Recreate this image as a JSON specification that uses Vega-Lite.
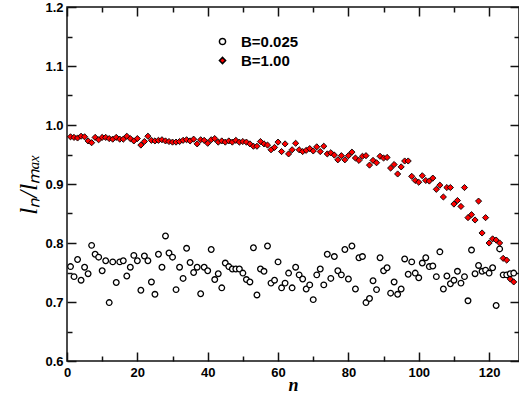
{
  "$schema": "https://vega.github.io/schema/vega-lite/v6.json",
  "width": 452,
  "height": 354,
  "autosize": {"type": "none"},
  "padding": {"left": 67, "top": 7, "right": 0, "bottom": 35},
  "background": "white",
  "config": {
    "view": {"stroke": "#111111", "strokeWidth": 1.5},
    "axis": {
      "grid": false,
      "domain": false,
      "ticks": true,
      "tickColor": "#111111",
      "tickWidth": 1.5,
      "labelFont": "Liberation Sans",
      "labelFontWeight": "bold",
      "labelFontSize": 13,
      "labelColor": "black"
    }
  },
  "datasets": {
    "diam": [
      {"n":1,"v":0.980,"s":"B=1.00"},{"n":2,"v":0.979,"s":"B=1.00"},{"n":3,"v":0.978,"s":"B=1.00"},{"n":4,"v":0.981,"s":"B=1.00"},{"n":5,"v":0.980,"s":"B=1.00"},
      {"n":6,"v":0.973,"s":"B=1.00"},{"n":7,"v":0.970,"s":"B=1.00"},{"n":8,"v":0.979,"s":"B=1.00"},{"n":9,"v":0.975,"s":"B=1.00"},{"n":10,"v":0.979,"s":"B=1.00"},
      {"n":11,"v":0.979,"s":"B=1.00"},{"n":12,"v":0.977,"s":"B=1.00"},{"n":13,"v":0.976,"s":"B=1.00"},{"n":14,"v":0.979,"s":"B=1.00"},{"n":15,"v":0.976,"s":"B=1.00"},
      {"n":16,"v":0.976,"s":"B=1.00"},{"n":17,"v":0.981,"s":"B=1.00"},{"n":18,"v":0.977,"s":"B=1.00"},{"n":19,"v":0.973,"s":"B=1.00"},{"n":20,"v":0.977,"s":"B=1.00"},
      {"n":21,"v":0.966,"s":"B=1.00"},{"n":22,"v":0.972,"s":"B=1.00"},{"n":23,"v":0.981,"s":"B=1.00"},{"n":24,"v":0.974,"s":"B=1.00"},{"n":25,"v":0.973,"s":"B=1.00"},
      {"n":26,"v":0.974,"s":"B=1.00"},{"n":27,"v":0.975,"s":"B=1.00"},{"n":28,"v":0.973,"s":"B=1.00"},{"n":29,"v":0.972,"s":"B=1.00"},{"n":30,"v":0.971,"s":"B=1.00"},
      {"n":31,"v":0.971,"s":"B=1.00"},{"n":32,"v":0.972,"s":"B=1.00"},{"n":33,"v":0.974,"s":"B=1.00"},{"n":34,"v":0.975,"s":"B=1.00"},{"n":35,"v":0.973,"s":"B=1.00"},
      {"n":36,"v":0.976,"s":"B=1.00"},{"n":37,"v":0.968,"s":"B=1.00"},{"n":38,"v":0.975,"s":"B=1.00"},{"n":39,"v":0.974,"s":"B=1.00"},{"n":40,"v":0.969,"s":"B=1.00"},
      {"n":41,"v":0.975,"s":"B=1.00"},{"n":42,"v":0.977,"s":"B=1.00"},{"n":43,"v":0.971,"s":"B=1.00"},{"n":44,"v":0.973,"s":"B=1.00"},{"n":45,"v":0.971,"s":"B=1.00"},
      {"n":46,"v":0.973,"s":"B=1.00"},{"n":47,"v":0.971,"s":"B=1.00"},{"n":48,"v":0.974,"s":"B=1.00"},{"n":49,"v":0.971,"s":"B=1.00"},{"n":50,"v":0.972,"s":"B=1.00"},
      {"n":51,"v":0.971,"s":"B=1.00"},{"n":52,"v":0.968,"s":"B=1.00"},{"n":53,"v":0.964,"s":"B=1.00"},{"n":54,"v":0.964,"s":"B=1.00"},{"n":55,"v":0.972,"s":"B=1.00"},
      {"n":56,"v":0.968,"s":"B=1.00"},{"n":57,"v":0.966,"s":"B=1.00"},{"n":58,"v":0.958,"s":"B=1.00"},{"n":59,"v":0.962,"s":"B=1.00"},{"n":60,"v":0.971,"s":"B=1.00"},
      {"n":61,"v":0.955,"s":"B=1.00"},{"n":62,"v":0.968,"s":"B=1.00"},{"n":63,"v":0.951,"s":"B=1.00"},{"n":64,"v":0.958,"s":"B=1.00"},{"n":65,"v":0.969,"s":"B=1.00"},
      {"n":66,"v":0.958,"s":"B=1.00"},{"n":67,"v":0.955,"s":"B=1.00"},{"n":68,"v":0.957,"s":"B=1.00"},{"n":69,"v":0.960,"s":"B=1.00"},{"n":70,"v":0.956,"s":"B=1.00"},
      {"n":71,"v":0.963,"s":"B=1.00"},{"n":72,"v":0.955,"s":"B=1.00"},{"n":73,"v":0.964,"s":"B=1.00"},{"n":74,"v":0.951,"s":"B=1.00"},{"n":75,"v":0.953,"s":"B=1.00"},
      {"n":76,"v":0.949,"s":"B=1.00"},{"n":77,"v":0.941,"s":"B=1.00"},{"n":78,"v":0.948,"s":"B=1.00"},{"n":79,"v":0.941,"s":"B=1.00"},{"n":80,"v":0.948,"s":"B=1.00"},
      {"n":81,"v":0.954,"s":"B=1.00"},{"n":82,"v":0.944,"s":"B=1.00"},{"n":83,"v":0.940,"s":"B=1.00"},{"n":84,"v":0.947,"s":"B=1.00"},{"n":85,"v":0.948,"s":"B=1.00"},
      {"n":86,"v":0.932,"s":"B=1.00"},{"n":87,"v":0.940,"s":"B=1.00"},{"n":88,"v":0.936,"s":"B=1.00"},{"n":89,"v":0.947,"s":"B=1.00"},{"n":90,"v":0.944,"s":"B=1.00"},
      {"n":91,"v":0.945,"s":"B=1.00"},{"n":92,"v":0.927,"s":"B=1.00"},{"n":93,"v":0.933,"s":"B=1.00"},{"n":94,"v":0.917,"s":"B=1.00"},{"n":95,"v":0.929,"s":"B=1.00"},
      {"n":96,"v":0.939,"s":"B=1.00"},{"n":97,"v":0.939,"s":"B=1.00"},{"n":98,"v":0.913,"s":"B=1.00"},{"n":99,"v":0.906,"s":"B=1.00"},{"n":100,"v":0.903,"s":"B=1.00"},
      {"n":101,"v":0.914,"s":"B=1.00"},{"n":102,"v":0.906,"s":"B=1.00"},{"n":103,"v":0.905,"s":"B=1.00"},{"n":104,"v":0.910,"s":"B=1.00"},{"n":105,"v":0.891,"s":"B=1.00"},
      {"n":106,"v":0.898,"s":"B=1.00"},{"n":107,"v":0.878,"s":"B=1.00"},{"n":108,"v":0.894,"s":"B=1.00"},{"n":109,"v":0.894,"s":"B=1.00"},{"n":110,"v":0.866,"s":"B=1.00"},
      {"n":111,"v":0.872,"s":"B=1.00"},{"n":112,"v":0.862,"s":"B=1.00"},{"n":113,"v":0.894,"s":"B=1.00"},{"n":114,"v":0.843,"s":"B=1.00"},{"n":115,"v":0.848,"s":"B=1.00"},
      {"n":116,"v":0.839,"s":"B=1.00"},{"n":117,"v":0.871,"s":"B=1.00"},{"n":118,"v":0.817,"s":"B=1.00"},{"n":119,"v":0.843,"s":"B=1.00"},{"n":120,"v":0.800,"s":"B=1.00"},
      {"n":121,"v":0.807,"s":"B=1.00"},{"n":122,"v":0.805,"s":"B=1.00"},{"n":123,"v":0.800,"s":"B=1.00"},{"n":124,"v":0.774,"s":"B=1.00"},{"n":125,"v":0.771,"s":"B=1.00"},
      {"n":126,"v":0.739,"s":"B=1.00"},{"n":127,"v":0.734,"s":"B=1.00"}
    ],
    "circ": [
      {"n":1,"v":0.760,"s":"B=0.025"},{"n":2,"v":0.743,"s":"B=0.025"},{"n":3,"v":0.772,"s":"B=0.025"},{"n":4,"v":0.737,"s":"B=0.025"},{"n":5,"v":0.759,"s":"B=0.025"},
      {"n":6,"v":0.748,"s":"B=0.025"},{"n":7,"v":0.796,"s":"B=0.025"},{"n":8,"v":0.781,"s":"B=0.025"},{"n":9,"v":0.776,"s":"B=0.025"},{"n":10,"v":0.753,"s":"B=0.025"},
      {"n":11,"v":0.770,"s":"B=0.025"},{"n":12,"v":0.699,"s":"B=0.025"},{"n":13,"v":0.768,"s":"B=0.025"},{"n":14,"v":0.733,"s":"B=0.025"},{"n":15,"v":0.768,"s":"B=0.025"},
      {"n":16,"v":0.770,"s":"B=0.025"},{"n":17,"v":0.744,"s":"B=0.025"},{"n":18,"v":0.759,"s":"B=0.025"},{"n":19,"v":0.779,"s":"B=0.025"},{"n":20,"v":0.770,"s":"B=0.025"},
      {"n":21,"v":0.720,"s":"B=0.025"},{"n":22,"v":0.778,"s":"B=0.025"},{"n":23,"v":0.770,"s":"B=0.025"},{"n":24,"v":0.734,"s":"B=0.025"},{"n":25,"v":0.713,"s":"B=0.025"},
      {"n":26,"v":0.781,"s":"B=0.025"},{"n":27,"v":0.759,"s":"B=0.025"},{"n":28,"v":0.812,"s":"B=0.025"},{"n":29,"v":0.783,"s":"B=0.025"},{"n":30,"v":0.776,"s":"B=0.025"},
      {"n":31,"v":0.721,"s":"B=0.025"},{"n":32,"v":0.759,"s":"B=0.025"},{"n":33,"v":0.740,"s":"B=0.025"},{"n":34,"v":0.791,"s":"B=0.025"},{"n":35,"v":0.767,"s":"B=0.025"},
      {"n":36,"v":0.750,"s":"B=0.025"},{"n":37,"v":0.759,"s":"B=0.025"},{"n":38,"v":0.714,"s":"B=0.025"},{"n":39,"v":0.759,"s":"B=0.025"},{"n":40,"v":0.753,"s":"B=0.025"},
      {"n":41,"v":0.789,"s":"B=0.025"},{"n":42,"v":0.738,"s":"B=0.025"},{"n":43,"v":0.748,"s":"B=0.025"},{"n":44,"v":0.724,"s":"B=0.025"},{"n":45,"v":0.766,"s":"B=0.025"},
      {"n":46,"v":0.760,"s":"B=0.025"},{"n":47,"v":0.756,"s":"B=0.025"},{"n":48,"v":0.756,"s":"B=0.025"},{"n":49,"v":0.756,"s":"B=0.025"},{"n":50,"v":0.749,"s":"B=0.025"},
      {"n":51,"v":0.738,"s":"B=0.025"},{"n":52,"v":0.734,"s":"B=0.025"},{"n":53,"v":0.792,"s":"B=0.025"},{"n":54,"v":0.712,"s":"B=0.025"},{"n":55,"v":0.756,"s":"B=0.025"},
      {"n":56,"v":0.752,"s":"B=0.025"},{"n":57,"v":0.795,"s":"B=0.025"},{"n":58,"v":0.732,"s":"B=0.025"},{"n":59,"v":0.737,"s":"B=0.025"},{"n":60,"v":0.768,"s":"B=0.025"},
      {"n":61,"v":0.724,"s":"B=0.025"},{"n":62,"v":0.732,"s":"B=0.025"},{"n":63,"v":0.749,"s":"B=0.025"},{"n":64,"v":0.724,"s":"B=0.025"},{"n":65,"v":0.759,"s":"B=0.025"},
      {"n":66,"v":0.746,"s":"B=0.025"},{"n":67,"v":0.739,"s":"B=0.025"},{"n":68,"v":0.722,"s":"B=0.025"},{"n":69,"v":0.729,"s":"B=0.025"},{"n":70,"v":0.704,"s":"B=0.025"},
      {"n":71,"v":0.746,"s":"B=0.025"},{"n":72,"v":0.756,"s":"B=0.025"},{"n":73,"v":0.729,"s":"B=0.025"},{"n":74,"v":0.781,"s":"B=0.025"},{"n":75,"v":0.740,"s":"B=0.025"},
      {"n":76,"v":0.777,"s":"B=0.025"},{"n":77,"v":0.753,"s":"B=0.025"},{"n":78,"v":0.746,"s":"B=0.025"},{"n":79,"v":0.789,"s":"B=0.025"},{"n":80,"v":0.739,"s":"B=0.025"},
      {"n":81,"v":0.795,"s":"B=0.025"},{"n":82,"v":0.722,"s":"B=0.025"},{"n":83,"v":0.775,"s":"B=0.025"},{"n":84,"v":0.777,"s":"B=0.025"},{"n":85,"v":0.699,"s":"B=0.025"},
      {"n":86,"v":0.706,"s":"B=0.025"},{"n":87,"v":0.736,"s":"B=0.025"},{"n":88,"v":0.721,"s":"B=0.025"},{"n":89,"v":0.775,"s":"B=0.025"},{"n":90,"v":0.753,"s":"B=0.025"},
      {"n":91,"v":0.758,"s":"B=0.025"},{"n":92,"v":0.715,"s":"B=0.025"},{"n":93,"v":0.734,"s":"B=0.025"},{"n":94,"v":0.713,"s":"B=0.025"},{"n":95,"v":0.722,"s":"B=0.025"},
      {"n":96,"v":0.773,"s":"B=0.025"},{"n":97,"v":0.747,"s":"B=0.025"},{"n":98,"v":0.768,"s":"B=0.025"},{"n":99,"v":0.749,"s":"B=0.025"},{"n":100,"v":0.741,"s":"B=0.025"},
      {"n":101,"v":0.766,"s":"B=0.025"},{"n":102,"v":0.775,"s":"B=0.025"},{"n":103,"v":0.760,"s":"B=0.025"},{"n":104,"v":0.761,"s":"B=0.025"},{"n":105,"v":0.743,"s":"B=0.025"},
      {"n":106,"v":0.785,"s":"B=0.025"},{"n":107,"v":0.722,"s":"B=0.025"},{"n":108,"v":0.744,"s":"B=0.025"},{"n":109,"v":0.731,"s":"B=0.025"},{"n":110,"v":0.737,"s":"B=0.025"},
      {"n":111,"v":0.752,"s":"B=0.025"},{"n":112,"v":0.732,"s":"B=0.025"},{"n":113,"v":0.743,"s":"B=0.025"},{"n":114,"v":0.702,"s":"B=0.025"},{"n":115,"v":0.788,"s":"B=0.025"},
      {"n":116,"v":0.748,"s":"B=0.025"},{"n":117,"v":0.762,"s":"B=0.025"},{"n":118,"v":0.752,"s":"B=0.025"},{"n":119,"v":0.754,"s":"B=0.025"},{"n":120,"v":0.749,"s":"B=0.025"},
      {"n":121,"v":0.758,"s":"B=0.025"},{"n":122,"v":0.694,"s":"B=0.025"},{"n":123,"v":0.790,"s":"B=0.025"},{"n":124,"v":0.746,"s":"B=0.025"},{"n":125,"v":0.746,"s":"B=0.025"},
      {"n":126,"v":0.748,"s":"B=0.025"},{"n":127,"v":0.749,"s":"B=0.025"}
    ]
  },
  "resolve": {"axis": {"x": "independent", "y": "independent"}},
  "layer": [
    {
      "data": {"name": "diam"},
      "mark": {"type": "point", "filled": true, "size": 38, "stroke": "black", "strokeWidth": 0.9, "opacity": 1},
      "encoding": {
        "x": {
          "field": "n", "type": "quantitative",
          "scale": {"domain": [0, 128.5], "nice": false, "zero": false},
          "axis": {
            "orient": "bottom",
            "offset": -9,
            "values": [0, 20, 40, 60, 80, 100, 120],
            "tickSize": 9,
            "labelPadding": 5,
            "labelFlush": false,
            "title": "n",
            "titleFont": "Liberation Serif",
            "titleFontStyle": "italic",
            "titleFontWeight": "bold",
            "titleFontSize": 18,
            "titleColor": "black",
            "titlePadding": -3
          }
        },
        "y": {
          "field": "v", "type": "quantitative",
          "scale": {"domain": [0.6, 1.2], "nice": false, "zero": false},
          "axis": {
            "orient": "left",
            "offset": -9,
            "values": [0.6, 0.7, 0.8, 0.9, 1.0, 1.1, 1.2],
            "format": ".1f",
            "tickSize": 9,
            "labelPadding": 4,
            "labelFlush": false,
            "title": "lₙ/lₘₐₓ",
            "titleFont": "Liberation Serif",
            "titleFontStyle": "italic",
            "titleFontWeight": "normal",
            "titleFontSize": 25,
            "titleColor": "black",
            "titlePadding": 3
          }
        },
        "shape": {
          "field": "s", "type": "nominal",
          "scale": {"domain": ["B=0.025", "B=1.00"], "range": ["circle", "diamond"]},
          "legend": {
            "orient": "none", "legendX": 148, "legendY": 27, "title": null,
            "labelFont": "Liberation Sans", "labelFontWeight": "bold", "labelFontSize": 15, "labelColor": "black",
            "symbolSize": 38,
            "rowPadding": 3, "labelOffset": 11, "padding": 0,
            "encode": {"symbols": {"update": {"stroke": {"value": "black"}, "strokeWidth": {"value": 1.2}}}}
          }
        },
        "fill": {
          "field": "s", "type": "nominal",
          "scale": {"domain": ["B=0.025", "B=1.00"], "range": ["white", "#ff0000"]},
          "legend": {
            "orient": "none", "legendX": 148, "legendY": 27, "title": null,
            "labelFont": "Liberation Sans", "labelFontWeight": "bold", "labelFontSize": 15, "labelColor": "black",
            "symbolSize": 38,
            "rowPadding": 3, "labelOffset": 11, "padding": 0,
            "encode": {"symbols": {"update": {"stroke": {"value": "black"}, "strokeWidth": {"value": 1.2}}}}
          }
        }
      }
    },
    {
      "data": {"name": "circ"},
      "mark": {"type": "point", "filled": true, "size": 32, "stroke": "black", "strokeWidth": 1.3, "opacity": 1},
      "encoding": {
        "x": {
          "field": "n", "type": "quantitative",
          "axis": {"orient": "top", "offset": -9, "values": [0, 20, 40, 60, 80, 100, 120], "tickSize": 9, "labels": false, "title": null}
        },
        "y": {
          "field": "v", "type": "quantitative",
          "axis": {"orient": "right", "offset": -9, "values": [0.6, 0.7, 0.8, 0.9, 1.0, 1.1, 1.2], "tickSize": 9, "labels": false, "title": null}
        },
        "shape": {"field": "s", "type": "nominal"},
        "fill": {"field": "s", "type": "nominal"}
      }
    },
    {
      "data": {"name": "circ"},
      "mark": {"type": "point", "opacity": 0},
      "encoding": {
        "x": {
          "field": "n", "type": "quantitative",
          "axis": {"orient": "bottom", "offset": -5, "values": [10, 30, 50, 70, 90, 110], "tickSize": 5, "labels": false, "title": null}
        },
        "y": {
          "field": "v", "type": "quantitative",
          "axis": {"orient": "left", "offset": -5, "values": [0.65, 0.75, 0.85, 0.95, 1.05, 1.15], "tickSize": 5, "labels": false, "title": null}
        }
      }
    },
    {
      "data": {"name": "circ"},
      "mark": {"type": "point", "opacity": 0},
      "encoding": {
        "x": {
          "field": "n", "type": "quantitative",
          "axis": {"orient": "top", "offset": -5, "values": [10, 30, 50, 70, 90, 110], "tickSize": 5, "labels": false, "title": null}
        },
        "y": {
          "field": "v", "type": "quantitative",
          "axis": {"orient": "right", "offset": -5, "values": [0.65, 0.75, 0.85, 0.95, 1.05, 1.15], "tickSize": 5, "labels": false, "title": null}
        }
      }
    }
  ]
}
